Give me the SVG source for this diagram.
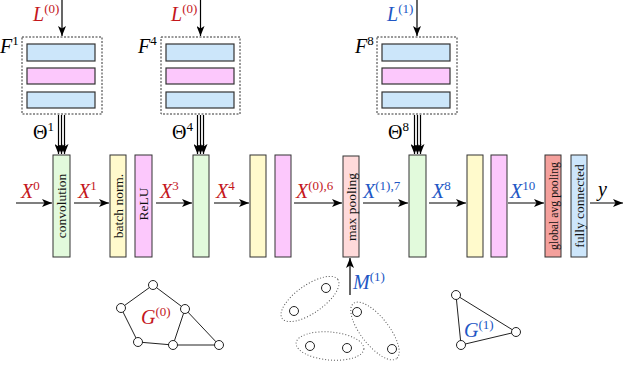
<svg xmlns="http://www.w3.org/2000/svg" width="623" height="365" viewBox="0 0 623 365">
<style>
.lbl{font-family:"Liberation Serif","DejaVu Serif",serif;font-style:italic;font-size:20px}
.up{font-family:"Liberation Serif","DejaVu Serif",serif;font-size:20px}
.sup{font-size:13px;font-style:normal}
.red{fill:#c4161c}
.blue{fill:#2156c4}
.blk{stroke:#333;stroke-width:1}
.btxt{font-family:"Liberation Serif","DejaVu Serif",serif;font-size:13.5px;fill:#111;text-anchor:middle}
.bar{stroke:#333;stroke-width:1.2}
.dash{fill:none;stroke:#333;stroke-width:1;stroke-dasharray:2 1.5}
.arr{stroke:#000;stroke-width:1.2;fill:none;marker-end:url(#ah)}
.edge{stroke:#222;stroke-width:1;fill:none}
.node{fill:#fff;stroke:#222;stroke-width:1}
.ell{fill:none;stroke:#555;stroke-width:1;stroke-dasharray:1 2}
.blue-f{fill:#cce6fa}.pink-f{fill:#fcc8fc}.green-f{fill:#e2fadc}.yellow-f{fill:#fffacc}.mp-f{fill:#ffdada}.gap-f{fill:#f4a09c}.fc-f{fill:#cde6fb}
</style>
<defs>
<marker id="ah" markerUnits="userSpaceOnUse" markerWidth="11" markerHeight="8" refX="10" refY="4" orient="auto">
<path d="M0,0 L10,4 L0,8 L2.5,4 z" fill="#000"/>
</marker>
</defs>

<!-- filter banks -->
<g id="filter1">
<rect class="dash" x="22" y="37" width="80" height="77"/>
<rect class="bar blue-f" x="27" y="44" width="68" height="17"/>
<rect class="bar pink-f" x="27" y="68" width="68" height="16"/>
<rect class="bar blue-f" x="27" y="92" width="68" height="16"/>
<text class="lbl" x="0" y="53">F<tspan class="sup" dy="-8">1</tspan></text>
</g>
<g id="filter4">
<rect class="dash" x="161" y="37" width="79" height="77"/>
<rect class="bar blue-f" x="166" y="44" width="68" height="17"/>
<rect class="bar pink-f" x="166" y="68" width="68" height="16"/>
<rect class="bar blue-f" x="166" y="92" width="68" height="16"/>
<text class="lbl" x="138" y="53">F<tspan class="sup" dy="-8">4</tspan></text>
</g>
<g id="filter8">
<rect class="dash" x="377" y="37" width="80" height="77"/>
<rect class="bar blue-f" x="382" y="44" width="68" height="17"/>
<rect class="bar pink-f" x="382" y="68" width="68" height="16"/>
<rect class="bar blue-f" x="382" y="92" width="68" height="16"/>
<text class="lbl" x="355" y="53">F<tspan class="sup" dy="-8">8</tspan></text>
</g>

<!-- blocks -->
<g id="conv1"><rect class="blk green-f" x="53" y="155" width="17" height="102"/><text class="btxt" transform="translate(61.5,206) rotate(-90)" dy="0.35em">convolution</text></g>
<g id="bn1"><rect class="blk yellow-f" x="110" y="155" width="16" height="102"/><text class="btxt" transform="translate(118,206) rotate(-90)" dy="0.35em">batch norm.</text></g>
<g id="relu1"><rect class="blk pink-f" x="135" y="155" width="17" height="102"/><text class="btxt" transform="translate(143.5,204) rotate(-90)" dy="0.35em">ReLU</text></g>
<g id="conv2"><rect class="blk green-f" x="193" y="155" width="16" height="102"/></g>
<g id="bn2"><rect class="blk yellow-f" x="250" y="155" width="16" height="102"/></g>
<g id="relu2"><rect class="blk pink-f" x="275" y="155" width="16" height="102"/></g>
<g id="maxpool"><rect class="blk mp-f" x="343" y="156" width="16" height="101"/><text class="btxt" transform="translate(351,207) rotate(-90)" dy="0.35em">max pooling</text></g>
<g id="conv3"><rect class="blk green-f" x="409" y="155" width="17" height="102"/></g>
<g id="bn3"><rect class="blk yellow-f" x="467" y="155" width="16" height="102"/></g>
<g id="relu3"><rect class="blk pink-f" x="491" y="155" width="16" height="102"/></g>
<g id="gap"><rect class="blk gap-f" x="545" y="155" width="16" height="102"/><text class="btxt" transform="translate(553,206) rotate(-90)" dy="0.35em" textLength="88" lengthAdjust="spacingAndGlyphs">global avg pooling</text></g>
<g id="fc"><rect class="blk fc-f" x="571" y="155" width="16" height="102"/><text class="btxt" transform="translate(579,206) rotate(-90)" dy="0.35em">fully connected</text></g>

<!-- connectors -->
<g id="connectors">
<line class="arr" x1="62" y1="0" x2="62" y2="36"/>
<line class="arr" x1="200.5" y1="0" x2="200.5" y2="36"/>
<line class="arr" x1="417" y1="0" x2="417" y2="36"/>
<line class="arr" x1="58.5" y1="115" x2="58.5" y2="154"/>
<line class="arr" x1="61.5" y1="115" x2="61.5" y2="154"/>
<line class="arr" x1="64.5" y1="115" x2="64.5" y2="154"/>
<line class="arr" x1="197.5" y1="115" x2="197.5" y2="154"/>
<line class="arr" x1="200.5" y1="115" x2="200.5" y2="154"/>
<line class="arr" x1="203.5" y1="115" x2="203.5" y2="154"/>
<line class="arr" x1="414.5" y1="115" x2="414.5" y2="154"/>
<line class="arr" x1="417.5" y1="115" x2="417.5" y2="154"/>
<line class="arr" x1="420.5" y1="115" x2="420.5" y2="154"/>
<line class="arr" x1="16" y1="203" x2="52" y2="203"/>
<line class="arr" x1="74" y1="203" x2="109" y2="203"/>
<line class="arr" x1="156" y1="203" x2="192" y2="203"/>
<line class="arr" x1="214" y1="203" x2="249" y2="203"/>
<line class="arr" x1="294" y1="203" x2="342" y2="203"/>
<line class="arr" x1="363" y1="203" x2="408" y2="203"/>
<line class="arr" x1="429" y1="203" x2="466" y2="203"/>
<line class="arr" x1="508" y1="203" x2="544" y2="203"/>
<line class="arr" x1="590" y1="203" x2="623" y2="203"/>
<line class="arr" x1="350" y1="295" x2="350" y2="258"/>
</g>

<!-- labels -->
<g id="labels">
<text class="lbl red" x="33" y="21">L<tspan class="sup" dy="-8">(0)</tspan></text>
<text class="lbl red" x="171" y="21">L<tspan class="sup" dy="-8">(0)</tspan></text>
<text class="lbl blue" x="387" y="21">L<tspan class="sup" dy="-8">(1)</tspan></text>
<text class="up" x="33" y="139">Θ<tspan class="sup" dy="-8">1</tspan></text>
<text class="up" x="172" y="139">Θ<tspan class="sup" dy="-8">4</tspan></text>
<text class="up" x="388" y="139">Θ<tspan class="sup" dy="-8">8</tspan></text>
<text class="lbl red" x="21" y="198">X<tspan class="sup" dy="-8">0</tspan></text>
<text class="lbl red" x="78" y="198">X<tspan class="sup" dy="-8">1</tspan></text>
<text class="lbl red" x="160" y="198">X<tspan class="sup" dy="-8">3</tspan></text>
<text class="lbl red" x="216" y="198">X<tspan class="sup" dy="-8">4</tspan></text>
<text class="lbl red" x="296" y="198">X<tspan class="sup" dy="-8">(0),6</tspan></text>
<text class="lbl blue" x="363" y="198">X<tspan class="sup" dy="-8">(1),7</tspan></text>
<text class="lbl blue" x="432" y="198">X<tspan class="sup" dy="-8">8</tspan></text>
<text class="lbl blue" x="510" y="198">X<tspan class="sup" dy="-8">10</tspan></text>
<text class="lbl" x="598" y="196">y</text>
<text class="lbl blue" x="353" y="289">M<tspan class="sup" dy="-8">(1)</tspan></text>
</g>

<!-- graph G0 -->
<g id="graph0">
<path class="edge" d="M153,285 L121,308 L138,342 L173,345 L185,309 Z M185,309 L219,345 L173,345"/>
<circle class="node" cx="153" cy="285" r="4.5"/>
<circle class="node" cx="121" cy="308" r="4.5"/>
<circle class="node" cx="185" cy="309" r="4.5"/>
<circle class="node" cx="138" cy="342" r="4.5"/>
<circle class="node" cx="173" cy="345" r="4.5"/>
<circle class="node" cx="219" cy="345" r="4.5"/>
<text class="lbl red" x="141" y="324">G<tspan class="sup" dy="-8">(0)</tspan></text>
</g>

<!-- pooling clusters -->
<g id="pooling">
<ellipse class="ell" cx="310" cy="299" rx="34" ry="14" transform="rotate(-35 310 299)"/>
<ellipse class="ell" cx="375" cy="331" rx="35" ry="14" transform="rotate(52 375 331)"/>
<ellipse class="ell" cx="330" cy="346" rx="34" ry="14" transform="rotate(5 330 346)"/>
<circle class="node" cx="326" cy="288" r="4.5"/>
<circle class="node" cx="294" cy="311" r="4.5"/>
<circle class="node" cx="357" cy="312" r="4.5"/>
<circle class="node" cx="310" cy="346" r="4.5"/>
<circle class="node" cx="347" cy="348" r="4.5"/>
<circle class="node" cx="392" cy="349" r="4.5"/>
</g>

<!-- graph G1 -->
<g id="graph1">
<path class="edge" d="M456,295 L461,345 L516,332 Z"/>
<circle class="node" cx="456" cy="295" r="4.5"/>
<circle class="node" cx="461" cy="345" r="4.5"/>
<circle class="node" cx="516" cy="332" r="4.5"/>
<text class="lbl blue" x="464" y="337">G<tspan class="sup" dy="-8">(1)</tspan></text>
</g>
</svg>
